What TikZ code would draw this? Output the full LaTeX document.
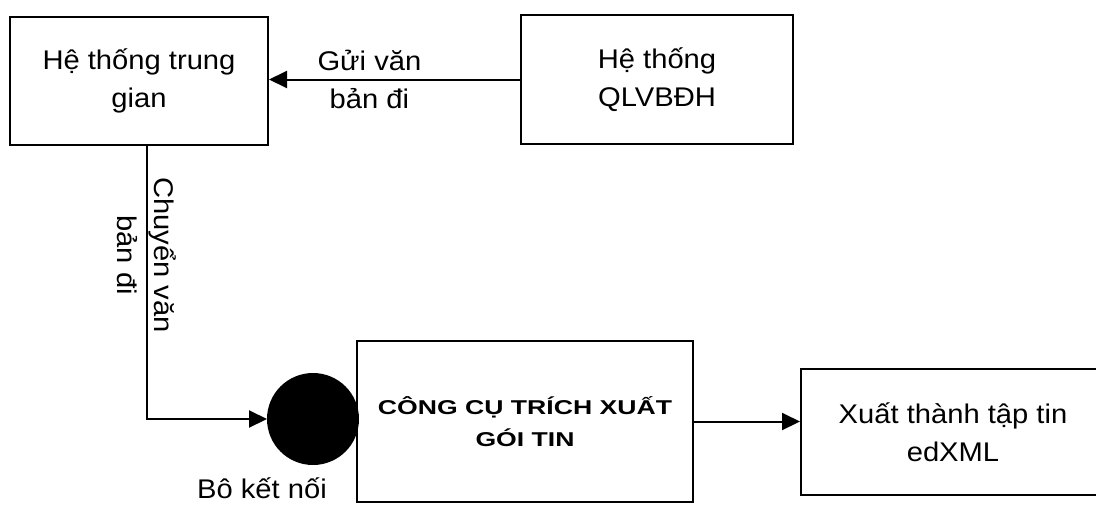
\documentclass[tikz,border=0pt]{standalone}
\usepackage{fontspec}
\setmainfont{Liberation Sans}[FakeStretch=1.08]
\newfontfamily\widebold{Liberation Sans}[FakeStretch=1.33]
\usetikzlibrary{arrows.meta,positioning,calc}

\begin{document}
\begin{tikzpicture}[x=0.5pt, y=-0.5pt, line width=1pt,
        box/.style={draw, align=center, inner sep=0pt, font=\fontsize{13.5}{18.75}\selectfont},
        lbl/.style={align=center, inner sep=0pt, font=\fontsize{13.5}{18.75}\selectfont},
        arr/.style={-{Triangle[length=9pt, width=8.5pt]}}]
        \useasboundingbox (0,0) rectangle (1096,504);
        \clip (0,0) rectangle (1096,504);

        \node[box, minimum width=129pt, minimum height=64pt] (trung) at (139,81) {Hệ thống trung\\gian};
        \node[box, minimum width=136pt, minimum height=64.5pt] (qlvb) at (657,79.5) {Hệ thống\\QLVBĐH};
        \node[draw, circle, fill=black, inner sep=0pt, minimum size=45pt] (noi) at (313,419) {};
        \node[box, minimum width=168pt, minimum height=80.5pt,
              font=\widebold\bfseries\fontsize{10}{16}\selectfont] (congcu) at (525,421.5) {CÔNG CỤ TRÍCH XUẤT\\GÓI TIN};
        \node[box, minimum width=152pt, minimum height=63pt] (xuat) at (953,432) {Xuất thành tập tin\\edXML};
        \node[lbl] (tennoi) at (262,488) {Bô kết nối};

        \draw[arr] (qlvb.west) -- (qlvb.west -| trung.east) node[lbl, pos=0.6] {Gửi văn\\bản đi};
        \draw[arr] ([xshift=4pt]trung.south) |- (noi.west) node[lbl, rotate=-90, pos=0.2] {Chuyển văn\\bản đi};
        \draw[arr] (congcu.east) -- (congcu.east -| xuat.west);
    \end{tikzpicture}
\end{document}
